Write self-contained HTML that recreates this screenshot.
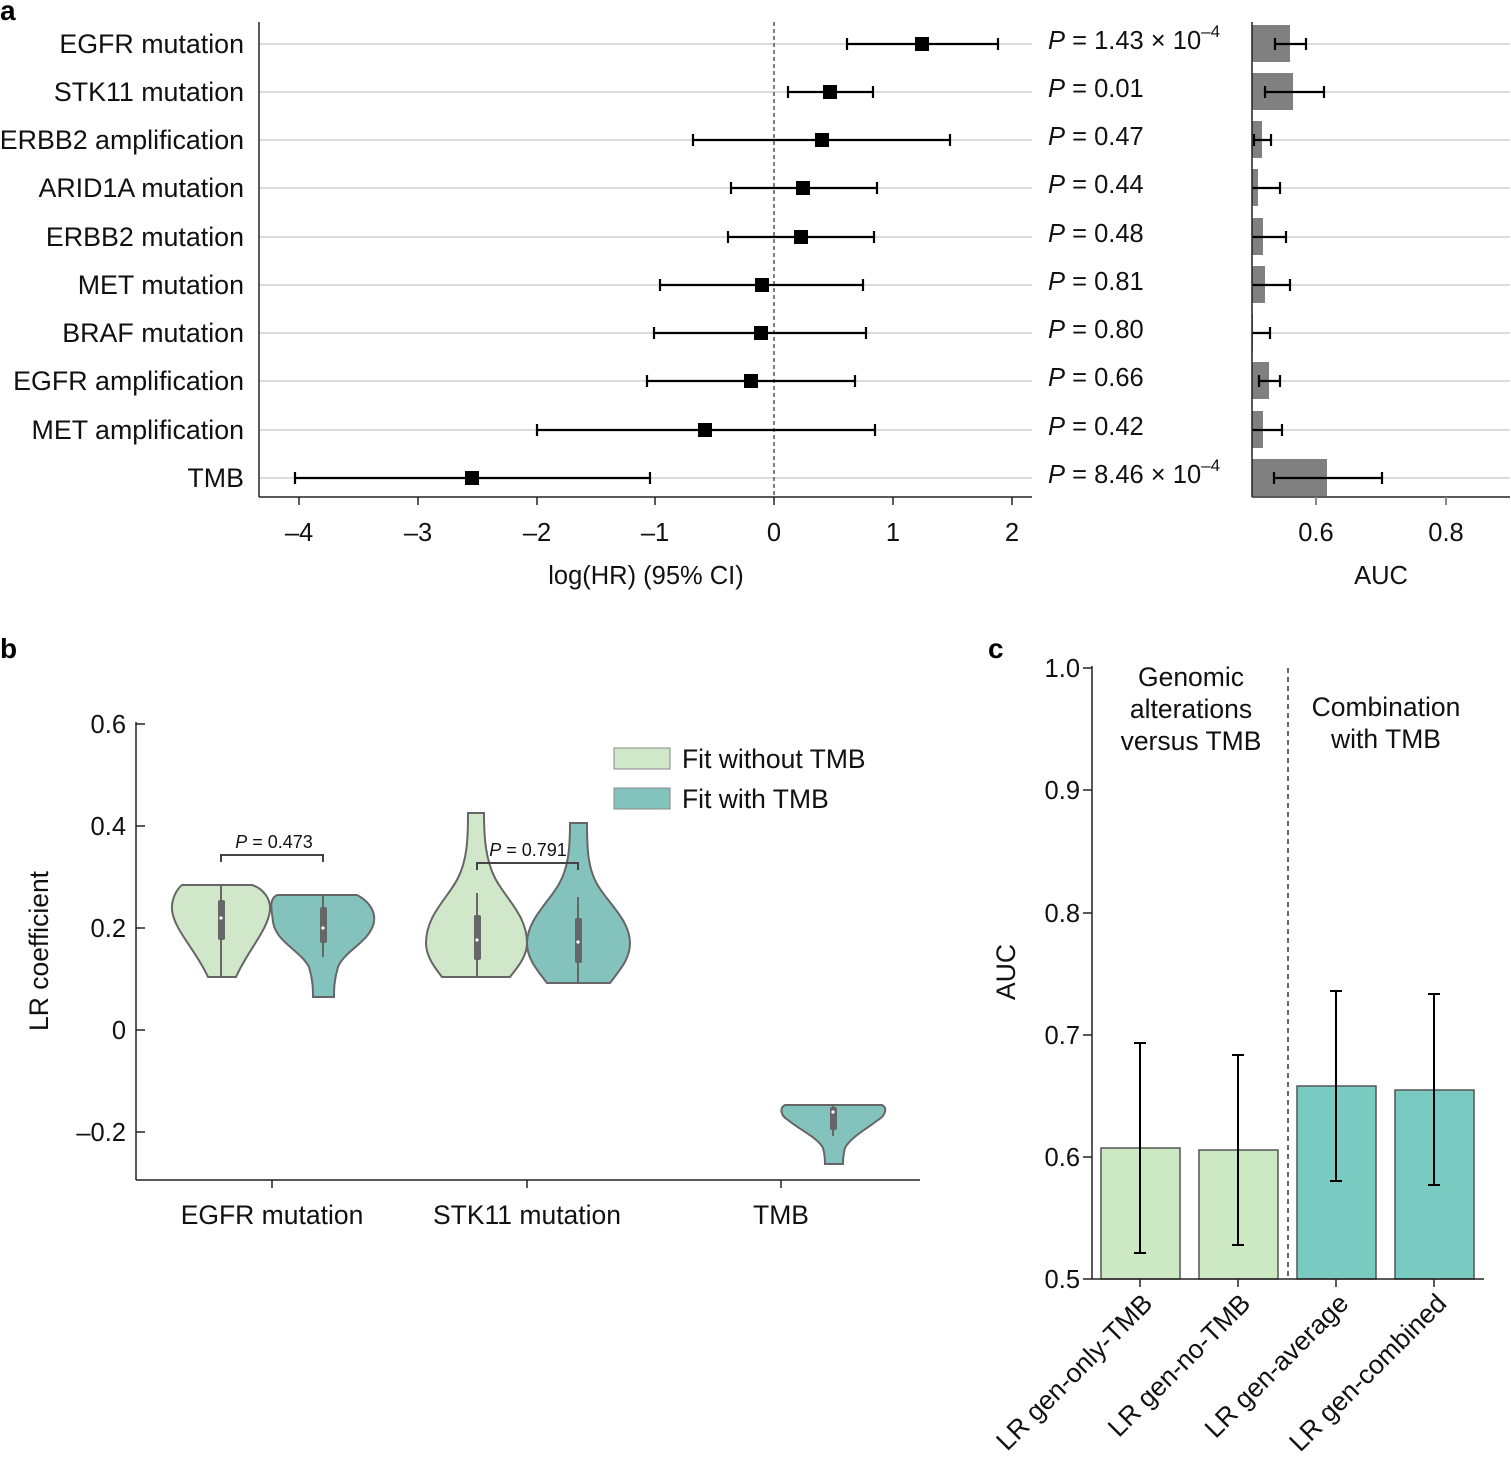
<!DOCTYPE html>
<html><head><meta charset="utf-8"><style>
html,body{margin:0;padding:0;background:#fff;}
svg{display:block;font-family:"Liberation Sans",Arial,sans-serif;}
</style></head><body>
<svg width="1511" height="1464" viewBox="0 0 1511 1464" xmlns="http://www.w3.org/2000/svg">
<g font-weight="bold" font-size="28" fill="#000">
<text x="0" y="20">a</text><text x="0" y="658">b</text><text x="988" y="658">c</text>
</g>

<!-- Panel a forest -->
<g stroke="#d0d0d0" stroke-width="1.5">
<line x1="259" y1="44" x2="1032" y2="44"/><line x1="259" y1="92" x2="1032" y2="92"/>
<line x1="259" y1="140" x2="1032" y2="140"/><line x1="259" y1="188" x2="1032" y2="188"/>
<line x1="259" y1="237" x2="1032" y2="237"/><line x1="259" y1="285" x2="1032" y2="285"/>
<line x1="259" y1="333" x2="1032" y2="333"/><line x1="259" y1="381" x2="1032" y2="381"/>
<line x1="259" y1="430" x2="1032" y2="430"/><line x1="259" y1="478" x2="1032" y2="478"/>
</g>
<line x1="774" y1="22" x2="774" y2="497" stroke="#555" stroke-width="1.5" stroke-dasharray="4,3"/>
<g stroke="#222" stroke-width="1.5">
<line x1="259" y1="22" x2="259" y2="497"/><line x1="259" y1="497" x2="1032" y2="497"/>
<line x1="299" y1="497" x2="299" y2="505"/><line x1="418" y1="497" x2="418" y2="505"/><line x1="537" y1="497" x2="537" y2="505"/><line x1="655" y1="497" x2="655" y2="505"/><line x1="774" y1="497" x2="774" y2="505"/><line x1="893" y1="497" x2="893" y2="505"/><line x1="1012" y1="497" x2="1012" y2="505"/>
</g>
<g stroke="#000" stroke-width="2.2">
<path d="M847 44H998M847 38V50M998 38V50"/>
<path d="M788 92H873M788 86V98M873 86V98"/>
<path d="M693 140H950M693 134V146M950 134V146"/>
<path d="M731 188H877M731 182V194M877 182V194"/>
<path d="M728 237H874M728 231V243M874 231V243"/>
<path d="M660 285H863M660 279V291M863 279V291"/>
<path d="M654 333H866M654 327V339M866 327V339"/>
<path d="M647 381H855M647 375V387M855 375V387"/>
<path d="M537 430H875M537 424V436M875 424V436"/>
<path d="M295 478H650M295 472V484M650 472V484"/>
</g>
<g fill="#000">
<rect x="915" y="37" width="14" height="14"/><rect x="823" y="85" width="14" height="14"/>
<rect x="815" y="133" width="14" height="14"/><rect x="796" y="181" width="14" height="14"/>
<rect x="794" y="230" width="14" height="14"/><rect x="755" y="278" width="14" height="14"/>
<rect x="754" y="326" width="14" height="14"/><rect x="744" y="374" width="14" height="14"/>
<rect x="698" y="423" width="14" height="14"/><rect x="465" y="471" width="14" height="14"/>
</g>
<g font-size="26.8" text-anchor="end" fill="#111">
<text x="244" y="53">EGFR mutation</text><text x="244" y="101">STK11 mutation</text>
<text x="244" y="149">ERBB2 amplification</text><text x="244" y="197">ARID1A mutation</text>
<text x="244" y="246">ERBB2 mutation</text><text x="244" y="294">MET mutation</text>
<text x="244" y="342">BRAF mutation</text><text x="244" y="390">EGFR amplification</text>
<text x="244" y="439">MET amplification</text><text x="244" y="487">TMB</text>
</g>
<g font-size="25.5" text-anchor="middle" fill="#111">
<text x="299" y="541">–4</text><text x="418" y="541">–3</text><text x="537" y="541">–2</text><text x="655" y="541">–1</text><text x="774" y="541">0</text><text x="893" y="541">1</text><text x="1012" y="541">2</text>
<text x="646" y="584">log(HR) (95% CI)</text>
<text x="1316" y="541">0.6</text><text x="1446" y="541">0.8</text>
<text x="1381" y="584">AUC</text>
</g>
<g font-size="25.5" fill="#111">
<text x="1048" y="49"><tspan font-style="italic">P</tspan> = 1.43 × 10<tspan font-size="17" dy="-12">–4</tspan></text>
<text x="1048" y="97"><tspan font-style="italic">P</tspan> = 0.01</text>
<text x="1048" y="145"><tspan font-style="italic">P</tspan> = 0.47</text>
<text x="1048" y="193"><tspan font-style="italic">P</tspan> = 0.44</text>
<text x="1048" y="242"><tspan font-style="italic">P</tspan> = 0.48</text>
<text x="1048" y="290"><tspan font-style="italic">P</tspan> = 0.81</text>
<text x="1048" y="338"><tspan font-style="italic">P</tspan> = 0.80</text>
<text x="1048" y="386"><tspan font-style="italic">P</tspan> = 0.66</text>
<text x="1048" y="435"><tspan font-style="italic">P</tspan> = 0.42</text>
<text x="1048" y="483"><tspan font-style="italic">P</tspan> = 8.46 × 10<tspan font-size="17" dy="-12">–4</tspan></text>
</g>

<!-- AUC panel -->
<g stroke="#d0d0d0" stroke-width="1.5">
<line x1="1252" y1="44" x2="1510" y2="44"/><line x1="1252" y1="92" x2="1510" y2="92"/>
<line x1="1252" y1="140" x2="1510" y2="140"/><line x1="1252" y1="188" x2="1510" y2="188"/>
<line x1="1252" y1="237" x2="1510" y2="237"/><line x1="1252" y1="285" x2="1510" y2="285"/>
<line x1="1252" y1="333" x2="1510" y2="333"/><line x1="1252" y1="381" x2="1510" y2="381"/>
<line x1="1252" y1="430" x2="1510" y2="430"/><line x1="1252" y1="478" x2="1510" y2="478"/>
</g>
<g fill="#808080">
<rect x="1252" y="25" width="38" height="37"/><rect x="1252" y="73" width="41" height="37"/>
<rect x="1252" y="121" width="10" height="37"/><rect x="1252" y="169" width="6" height="37"/>
<rect x="1252" y="218" width="11" height="37"/><rect x="1252" y="266" width="13" height="37"/>
<rect x="1252" y="314" width="1" height="37"/><rect x="1252" y="362" width="17" height="37"/>
<rect x="1252" y="411" width="11" height="37"/><rect x="1252" y="459" width="75" height="37"/>
</g>
<g stroke="#000" stroke-width="2.2">
<path d="M1275 44H1306M1275 38V50M1306 38V50"/>
<path d="M1265 92H1324M1265 86V98M1324 86V98"/>
<path d="M1254 140H1271M1254 134V146M1271 134V146"/>
<path d="M1252 188H1280M1280 182V194"/>
<path d="M1252 237H1286M1286 231V243"/>
<path d="M1252 285H1290M1290 279V291"/>
<path d="M1252 333H1270M1270 327V339"/>
<path d="M1259 381H1280M1259 375V387M1280 375V387"/>
<path d="M1252 430H1282M1282 424V436"/>
<path d="M1274 478H1382M1274 472V484M1382 472V484"/>
</g>
<g stroke="#222" stroke-width="1.5">
<line x1="1252" y1="22" x2="1252" y2="497"/><line x1="1252" y1="497" x2="1510" y2="497"/>
</g>
<g stroke="#888" stroke-width="2"><line x1="1316" y1="497" x2="1316" y2="505"/><line x1="1446" y1="497" x2="1446" y2="505"/></g>

<!-- Panel b -->
<g stroke="#222" stroke-width="1.5">
<line x1="136" y1="722" x2="136" y2="1180"/><line x1="136" y1="1180" x2="920" y2="1180"/>
<line x1="136" y1="724" x2="145" y2="724"/><line x1="136" y1="826" x2="145" y2="826"/><line x1="136" y1="928" x2="145" y2="928"/><line x1="136" y1="1030" x2="145" y2="1030"/><line x1="136" y1="1132" x2="145" y2="1132"/>
<line x1="272" y1="1180" x2="272" y2="1188"/><line x1="527" y1="1180" x2="527" y2="1188"/><line x1="781" y1="1180" x2="781" y2="1188"/>
</g>
<g font-size="25.5" fill="#111" text-anchor="end">
<text x="126" y="733">0.6</text><text x="126" y="835">0.4</text><text x="126" y="937">0.2</text><text x="126" y="1039">0</text><text x="126" y="1141">–0.2</text>
</g>
<text transform="translate(48,951) rotate(-90)" font-size="26.5" text-anchor="middle" fill="#111">LR coefficient</text>
<g font-size="26.5" fill="#111" text-anchor="middle">
<text x="272" y="1224">EGFR mutation</text><text x="527" y="1224">STK11 mutation</text><text x="781" y="1224">TMB</text>
</g>
<g stroke="#666" stroke-width="2">
<path fill="#d0e8c9" d="M182 885H252C262 888 271 898 270 910C268 930 248 950 236 977H208C196 950 174 930 172 910C171 898 178 888 182 885Z"/>
<path fill="#84c3bd" d="M277 895H357C367 900 376 910 374 922C370 942 345 950 338 967C334 980 334 990 334 997H313C313 990 313 980 309 967C300 950 276 942 273 922C272 910 268 900 277 895Z"/>
<path fill="#d0e8c9" d="M468 813H484C484 840 486 860 495 878C505 898 527 915 527 943C527 958 515 970 510 977H442C437 970 426 958 426 943C426 915 448 898 458 878C467 860 468 840 468 813Z"/>
<path fill="#84c3bd" d="M570 823H587C587 850 588 868 597 884C607 902 630 920 630 943C630 960 618 972 610 983H547C539 972 527 960 527 943C527 920 549 902 559 884C568 868 570 850 570 823Z"/>
<path fill="#84c3bd" d="M785 1105H882C888 1108 885 1116 878 1120C865 1130 850 1138 845 1148C843 1155 843 1160 843 1164H825C825 1160 825 1155 823 1148C818 1138 800 1130 788 1120C781 1116 779 1108 785 1105Z"/>
<path fill="none" d="M221 885V977M323 895V957M477 893V977M578 897V983M833 1105V1136"/>
<path fill="none" stroke="#444" d="M221 862V855H323V862M477 870V863H578V870"/>
</g>
<g fill="#666">
<rect x="218" y="900" width="7" height="40" rx="2"/><rect x="320" y="907" width="7" height="36" rx="2"/>
<rect x="474" y="915" width="7" height="45" rx="2"/><rect x="575" y="918" width="7" height="45" rx="2"/>
<rect x="830" y="1107" width="7" height="23" rx="2"/>
</g>
<g fill="#fff"><circle cx="221" cy="918" r="1.6"/><circle cx="323" cy="928" r="1.6"/><circle cx="477" cy="940" r="1.6"/><circle cx="578" cy="942" r="1.6"/><circle cx="833" cy="1112" r="1.6"/></g>
<g font-size="18" fill="#111" text-anchor="middle">
<text x="274" y="848"><tspan font-style="italic">P</tspan> = 0.473</text>
<text x="528" y="856"><tspan font-style="italic">P</tspan> = 0.791</text>
</g>
<rect x="614" y="748" width="56" height="21" fill="#d0e8c9" stroke="#888"/>
<rect x="614" y="788" width="56" height="21" fill="#84c3bd" stroke="#888"/>
<g font-size="26.5" fill="#111"><text x="682" y="768">Fit without TMB</text><text x="682" y="808">Fit with TMB</text></g>

<!-- Panel c -->
<g stroke="#333" stroke-width="1.5" fill="none">
<line x1="1288" y1="668" x2="1288" y2="1279" stroke-dasharray="5,4"/>
</g>
<g stroke="#555" stroke-width="1.5">
<rect x="1101" y="1148" width="79" height="131" fill="#cde9c4"/>
<rect x="1199" y="1150" width="79" height="129" fill="#cde9c4"/>
<rect x="1297" y="1086" width="79" height="193" fill="#79cbc2"/>
<rect x="1395" y="1090" width="79" height="189" fill="#79cbc2"/>
</g>
<g stroke="#000" stroke-width="2">
<path d="M1140 1043V1253M1134 1043H1146M1134 1253H1146"/>
<path d="M1238 1055V1245M1232 1055H1244M1232 1245H1244"/>
<path d="M1336 991V1181M1330 991H1342M1330 1181H1342"/>
<path d="M1434 994V1185M1428 994H1440M1428 1185H1440"/>
</g>
<g stroke="#222" stroke-width="1.5">
<line x1="1092" y1="666" x2="1092" y2="1279"/><line x1="1092" y1="1279" x2="1484" y2="1279"/>
<line x1="1083" y1="668" x2="1092" y2="668"/><line x1="1083" y1="790" x2="1092" y2="790"/><line x1="1083" y1="913" x2="1092" y2="913"/><line x1="1083" y1="1035" x2="1092" y2="1035"/><line x1="1083" y1="1157" x2="1092" y2="1157"/><line x1="1083" y1="1279" x2="1092" y2="1279"/>
<line x1="1140" y1="1279" x2="1140" y2="1287"/><line x1="1238" y1="1279" x2="1238" y2="1287"/><line x1="1336" y1="1279" x2="1336" y2="1287"/><line x1="1434" y1="1279" x2="1434" y2="1287"/>
</g>
<g font-size="25.5" fill="#111" text-anchor="end">
<text x="1080" y="677">1.0</text><text x="1080" y="799">0.9</text><text x="1080" y="922">0.8</text><text x="1080" y="1044">0.7</text><text x="1080" y="1166">0.6</text><text x="1080" y="1288">0.5</text>
</g>
<text transform="translate(1015,972) rotate(-90)" font-size="26.5" text-anchor="middle" fill="#111">AUC</text>
<g font-size="26.5" fill="#111" text-anchor="middle">
<text x="1191" y="686">Genomic</text><text x="1191" y="718">alterations</text><text x="1191" y="750">versus TMB</text>
<text x="1386" y="716">Combination</text><text x="1386" y="748">with TMB</text>
</g>
<g font-size="26.5" fill="#111" text-anchor="end">
<text transform="translate(1154,1305) rotate(-45)">LR gen-only-TMB</text>
<text transform="translate(1252,1305) rotate(-45)">LR gen-no-TMB</text>
<text transform="translate(1350,1305) rotate(-45)">LR gen-average</text>
<text transform="translate(1448,1305) rotate(-45)">LR gen-combined</text>
</g>
</svg>
</body></html>
